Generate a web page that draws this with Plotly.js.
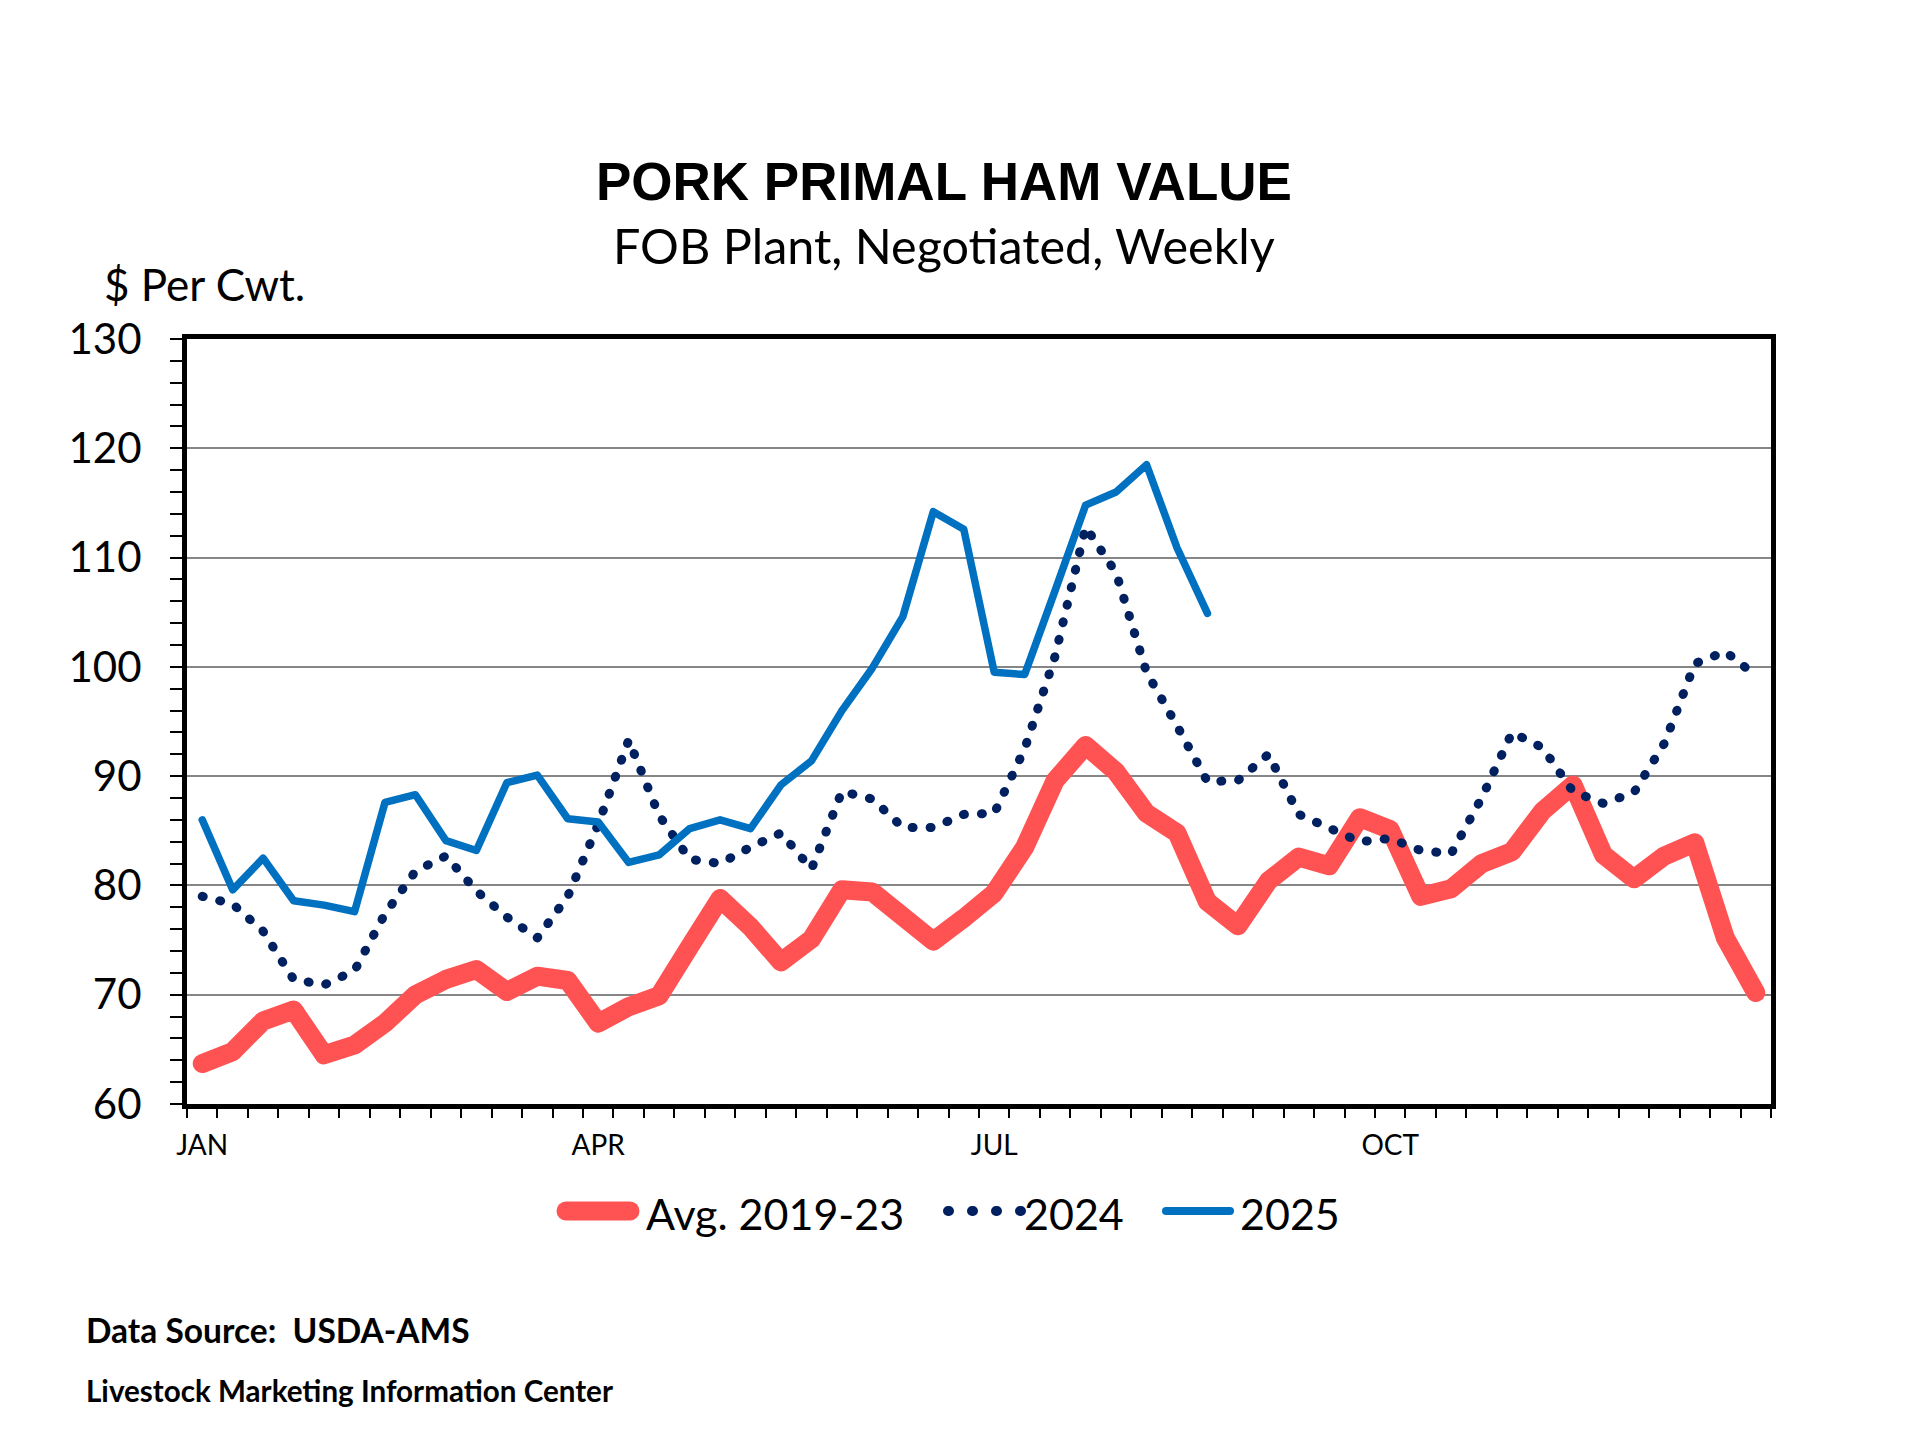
<!DOCTYPE html>
<html>
<head>
<meta charset="utf-8">
<script src="https://cdn.plot.ly/plotly-3.0.1.min.js"></script>
<style>
  html, body { margin: 0; padding: 0; background: #fff; }
  #chart { width: 1920px; height: 1440px; }
</style>
</head>
<body>
<div id="chart"></div>
<script>
// Pork primal ham value — weekly, avg 2019-23 vs 2024 vs 2025.

const weeks = [1, 2, 3, 4, 5, 6, 7, 8, 9, 10, 11, 12, 13, 14, 15, 16, 17, 18, 19, 20,
               21, 22, 23, 24, 25, 26, 27, 28, 29, 30, 31, 32, 33, 34, 35, 36, 37, 38, 39, 40,
               41, 42, 43, 44, 45, 46, 47, 48, 49, 50, 51, 52];

const monthTicks  = [1, 14, 27, 40];
const monthLabels = ["JAN", "APR", "JUL", "OCT"];

const avg1923 = [63.7, 64.8, 67.6, 68.6, 64.5, 65.4, 67.4, 70.0, 71.4, 72.3,
                 70.3, 71.7, 71.3, 67.4, 68.9, 69.9, 74.4, 78.8, 76.2, 73.0,
                 75.1, 79.6, 79.4, 77.4, 74.9, 77.0, 79.3, 83.5, 89.6, 92.8,
                 90.4, 86.6, 84.8, 78.5, 76.3, 80.4, 82.6, 81.8, 86.2, 85.1,
                 79.0, 79.7, 82.0, 83.1, 86.8, 89.2, 82.8, 80.6, 82.7, 83.9,
                 75.2, 70.2];

const y2024 = [79.0, 78.3, 75.8, 71.4, 70.9, 72.2, 77.4, 81.3, 82.7, 79.5,
               77.1, 75.2, 79.0, 85.6, 93.3, 86.4, 82.4, 82.0, 83.5, 84.8,
               81.5, 88.6, 87.9, 85.3, 85.3, 86.5, 86.6, 92.5, 101.0, 112.8,
               108.6, 99.5, 94.6, 89.5, 89.6, 92.0, 86.5, 85.2, 84.0, 84.3,
               83.2, 82.9, 88.0, 94.0, 92.6, 88.6, 87.5, 88.5, 93.0, 100.3,
               101.4, 99.2];

const y2025 = [86.0, 79.6, 82.5, 78.6, 78.2, 77.6, 87.6, 88.3, 84.1, 83.2,
               89.4, 90.1, 86.1, 85.8, 82.1, 82.8, 85.2, 86.0, 85.2, 89.2,
               91.4, 96.0, 99.9, 104.6, 114.2, 112.6, 99.5, 99.3, 107.0, 114.8,
               116.0, 118.5, 110.9, 104.9];

const seriesNames = ["Avg. 2019-23", "2024", "2025"];

const RED = "#ff5353", NAVY = "#002060", BLUE = "#0070c0";
const FONT = "Lato, 'Open Sans', sans-serif";

// plot area in page pixels
const L = 187, R = 1771, T = 339, B = 1104;
const px = x => (x - L) / (R - L);
const py = y => (B - y) / (B - T);

const traces = [
  { type: "scatter", mode: "lines", x: weeks, y: avg1923, name: seriesNames[0],
    line: { color: RED, width: 19 }, hoverinfo: "skip" },
  { type: "scatter", mode: "lines", x: weeks, y: y2024, name: seriesNames[1],
    line: { color: NAVY, width: 9, dash: "1px,17px" }, hoverinfo: "skip" },
  { type: "scatter", mode: "lines", x: weeks.slice(0, y2025.length), y: y2025, name: seriesNames[2],
    line: { color: BLUE, width: 7.5 }, hoverinfo: "skip" },
];

const LEG_Y = 1211;
function legendItem(x0, x1, textX, style, label) {
  return {
    shape: { type: "line", xref: "paper", yref: "paper",
             x0: px(x0), x1: px(x1), y0: py(LEG_Y), y1: py(LEG_Y), line: style },
    ann: { text: label, xref: "paper", yref: "paper", x: px(textX), y: py(LEG_Y + 2),
           xanchor: "left", yanchor: "middle", showarrow: false,
           font: { family: FONT, size: 43, color: "#000" } },
  };
}

const legend = [
  legendItem(566, 630, 644, { color: RED, width: 19 }, seriesNames[0]),
  legendItem(948, 1023, 1022, { color: NAVY, width: 10, dash: "1px,23px" }, seriesNames[1]),
  legendItem(1166, 1230, 1238, { color: BLUE, width: 8 }, seriesNames[2]),
];

const layout = {
  width: 1920, height: 1440,
  margin: { l: L, r: 1920 - R, t: T, b: 1440 - B },
  paper_bgcolor: "#fff", plot_bgcolor: "#fff",
  showlegend: false,
  xaxis: {
    range: [0.5, 52.5], tickmode: "array", tickvals: monthTicks, ticktext: monthLabels,
    ticks: "", showgrid: false, zeroline: false,
    showline: true, mirror: true, linecolor: "#000", linewidth: 5,
    tickfont: { family: FONT, size: 28, color: "#000" }, ticklabelstandoff: 12,
    minor: { tickmode: "linear", tick0: 0.5, dtick: 1, ticks: "outside",
             ticklen: 9, tickwidth: 2, tickcolor: "#000", showgrid: false },
  },
  yaxis: {
    range: [60, 130], dtick: 10, ticks: "outside", ticklen: 12, tickwidth: 2, tickcolor: "#000",
    showgrid: true, gridcolor: "#868686", gridwidth: 2, zeroline: false,
    showline: true, mirror: true, linecolor: "#000", linewidth: 5,
    tickfont: { family: FONT, size: 42, color: "#000" }, ticklabelstandoff: 20,
    minor: { dtick: 2, ticks: "outside", ticklen: 12, tickwidth: 2, tickcolor: "#000", showgrid: false },
  },
  shapes: legend.map(d => d.shape),
  annotations: [
    { text: "<b>PORK PRIMAL HAM VALUE</b>", xref: "paper", yref: "paper",
      x: px(944), y: py(181), xanchor: "center", yanchor: "middle", showarrow: false,
      font: { family: "'Liberation Sans', Arial, sans-serif", size: 53, color: "#000" } },
    { text: "FOB Plant, Negotiated, Weekly", xref: "paper", yref: "paper",
      x: px(944), y: py(245), xanchor: "center", yanchor: "middle", showarrow: false,
      font: { family: FONT, size: 48.5, color: "#000" } },
    { text: "$ Per Cwt.", xref: "paper", yref: "paper",
      x: px(204), y: py(284), xanchor: "center", yanchor: "middle", showarrow: false,
      font: { family: FONT, size: 44, color: "#000" } },
    { text: "<b>Data Source:\u00a0 USDA-AMS</b>", xref: "paper", yref: "paper",
      x: px(84), y: py(1330), xanchor: "left", yanchor: "middle", showarrow: false,
      font: { family: FONT, size: 33.5, color: "#000" } },
    { text: "<b>Livestock Marketing Information Center</b>", xref: "paper", yref: "paper",
      x: px(84), y: py(1390), xanchor: "left", yanchor: "middle", showarrow: false,
      font: { family: FONT, size: 29.6, color: "#000" } },
    ...legend.map(d => d.ann),
  ],
};

Plotly.newPlot("chart", traces, layout, { staticPlot: true }).then(gd => {
  // round caps/joins like the original spreadsheet chart
  gd.querySelectorAll(".scatterlayer path.js-line, .shapelayer path").forEach(p => {
    p.style.strokeLinecap = "round";
    p.style.strokeLinejoin = "round";
  });
});
</script>
</body>
</html>
